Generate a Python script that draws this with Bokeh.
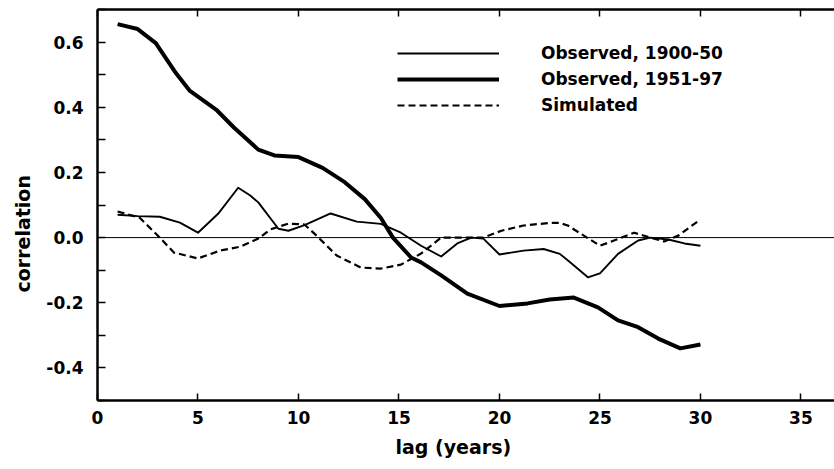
from bokeh.plotting import figure
from bokeh.models import (Range1d, LinearAxis, FixedTicker, PrintfTickFormatter,
                          Span, Legend, LegendItem, CustomJSTickFormatter, Title)
from bokeh.embed import file_html
from bokeh.resources import INLINE

# ---- data ----
lag_1900 = [1.0, 2.0, 3.1, 4.1, 5.0, 6.0, 7.0, 7.6, 8.0, 9.0, 9.5, 10.3, 11.6, 12.9,
            14.1, 15.1, 16.1, 17.1, 17.9, 18.6, 19.2, 20.0, 21.2, 22.2, 23.0, 23.5,
            24.4, 25.0, 25.9, 26.9, 27.5, 28.4, 29.2, 30.0]
corr_1900 = [0.070, 0.066, 0.064, 0.046, 0.015, 0.073, 0.153, 0.129, 0.108, 0.027,
             0.021, 0.038, 0.074, 0.049, 0.042, 0.015, -0.025, -0.058, -0.018, 0.0,
             -0.003, -0.052, -0.040, -0.035, -0.050, -0.075, -0.122, -0.110, -0.050,
             -0.009, 0.0, -0.006, -0.018, -0.025]

lag_1951 = [1.0, 2.0, 2.9, 3.9, 4.6, 5.9, 6.8, 8.0, 8.8, 10.0, 11.2, 12.3, 13.3,
            14.1, 14.7, 15.6, 16.1, 17.1, 18.4, 20.0, 21.4, 22.5, 23.7, 24.9, 25.9,
            26.9, 27.9, 29.0, 30.0]
corr_1951 = [0.655, 0.640, 0.597, 0.505, 0.450, 0.393, 0.337, 0.270, 0.252, 0.247,
             0.214, 0.170, 0.118, 0.060, 0.000, -0.061, -0.076, -0.116, -0.172,
             -0.210, -0.202, -0.190, -0.184, -0.214, -0.254, -0.275, -0.310, -0.340,
             -0.328]

lag_sim = [1.0, 2.1, 3.1, 3.8, 5.0, 6.1, 7.1, 8.0, 8.6, 9.5, 10.3, 10.9, 11.9, 13.1,
           14.1, 15.1, 16.1, 17.1, 18.4, 19.2, 20.1, 21.2, 22.5, 23.0, 23.4, 24.2,
           25.0, 25.7, 26.7, 27.5, 28.2, 28.9, 30.0]
corr_sim = [0.080, 0.061, 0.0, -0.046, -0.064, -0.040, -0.028, -0.003, 0.025, 0.043,
            0.040, 0.006, -0.055, -0.092, -0.095, -0.083, -0.049, 0.0, 0.0, 0.0,
            0.021, 0.037, 0.045, 0.045, 0.037, 0.006, -0.025, -0.009, 0.015, 0.0,
            -0.012, 0.006, 0.056]

series_labels = ["Observed, 1900-50", "Observed, 1951-97", "Simulated"]
x_ticks = [0, 5, 10, 15, 20, 25, 30, 35]
y_ticks = [-0.4, -0.2, 0.0, 0.2, 0.4, 0.6]
y_minor = [-0.5, -0.3, -0.1, 0.1, 0.3, 0.5, 0.7]
x_title = "lag (years)"
y_title = "correlation"

FONT = "DejaVu Sans"
FS = "17px"

p = figure(width=834, height=469, output_backend="svg", toolbar_location=None,
           x_range=Range1d(0, 36.67), y_range=Range1d(-0.5, 0.7),
           min_border_left=97, min_border_right=0, min_border_top=9,
           min_border_bottom=69)
p.outline_line_color = None
p.grid.visible = False
p.background_fill_color = "white"

r1 = p.line(lag_1900, corr_1900, line_width=1.9, line_color="black", line_join="round")
r2 = p.line(lag_1951, corr_1951, line_width=4, line_color="black", line_join="round")
r3 = p.line(lag_sim, corr_sim, line_width=2.2, line_color="black", line_dash="7 4",
            line_join="round")

p.add_layout(Span(location=0, dimension="width", line_color="black", line_width=1))

# bottom axis
xa = p.xaxis[0]
xa.ticker = FixedTicker(ticks=x_ticks)
xa.major_tick_in = 7
xa.major_tick_out = 0
xa.minor_tick_in = 0
xa.minor_tick_out = 0
xa.axis_line_width = 2.5
xa.major_tick_line_width = 1.5
xa.major_label_standoff = 10
xa.major_label_text_font = FONT
xa.major_label_text_font_style = "bold"
xa.major_label_text_font_size = FS
xa.major_label_text_color = "black"

# left axis
ya = p.yaxis[0]
ya.ticker = FixedTicker(ticks=y_ticks, minor_ticks=y_minor)
ya.formatter = PrintfTickFormatter(format="%.1f")
ya.major_tick_in = 8
ya.major_tick_out = 0
ya.minor_tick_in = 8
ya.minor_tick_out = 0
ya.axis_line_width = 2.5
ya.major_tick_line_width = 1.5
ya.minor_tick_line_width = 1.5
ya.major_label_standoff = 14
ya.major_label_text_font = FONT
ya.major_label_text_font_style = "bold"
ya.major_label_text_font_size = FS
ya.major_label_text_color = "black"

# axis titles (placed like the original, not centred on the frame)
p.add_layout(Title(text=x_title, align="left", offset=298, standoff=14,
                   text_font=FONT, text_font_style="bold", text_font_size="19px",
                   text_color="black"), "below")
p.add_layout(Title(text=y_title, align="left", offset=108, standoff=19,
                   text_font=FONT, text_font_style="bold", text_font_size="19px",
                   text_color="black"), "left")

# top axis (frame edge with inward ticks)
top = LinearAxis(ticker=FixedTicker(ticks=x_ticks),
                 formatter=CustomJSTickFormatter(code="return ''"),
                 major_tick_in=7, major_tick_out=0, minor_tick_in=0, minor_tick_out=0,
                 axis_line_width=2.5, major_tick_line_width=1.5,
                 major_label_standoff=0, major_label_text_font_size="0px")
p.add_layout(top, "above")

legend = Legend(items=[LegendItem(label=series_labels[0], renderers=[r1]),
                       LegendItem(label=series_labels[1], renderers=[r2]),
                       LegendItem(label=series_labels[2], renderers=[r3])],
                location=(300, 285), glyph_width=102, glyph_height=20,
                label_height=20, label_standoff=42, spacing=6, padding=0, margin=0,
                border_line_color=None, background_fill_alpha=0,
                label_text_font=FONT, label_text_font_style="bold",
                label_text_font_size=FS, label_text_color="black")
p.add_layout(legend)

open("out.html", "w").write(file_html(p, INLINE))
